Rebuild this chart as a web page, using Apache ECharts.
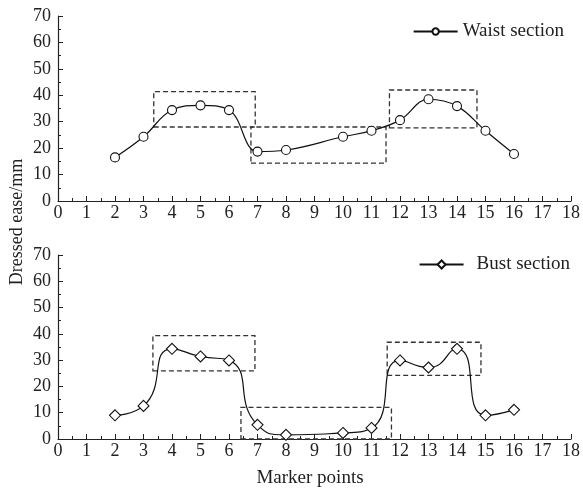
<!DOCTYPE html>
<html><head><meta charset="utf-8">
<script src="https://cdn.jsdelivr.net/npm/echarts@6/dist/echarts.min.js"></script>
<style>html,body{margin:0;padding:0;background:#fff}#c{width:583px;height:488px}</style>
</head><body><div id="c"></div>
<script>
const markerPoints = [2,3,4,5,6,7,8,10,11,12,13,14,15,16];
const waistValues = [16.5,24.3,34.4,36.2,34.4,18.7,19.3,24.3,26.6,30.6,38.5,35.9,26.6,17.8];
const bustValues  = [9.0,12.6,34.3,31.4,29.9,5.4,1.6,2.3,4.2,29.9,27.2,34.3,9.0,11.1];
// dashed boxes: [x1, y1, x2, y2]
const waistBoxes = [[3.36,28,6.92,41.4],[6.77,14.3,11.51,28],[11.63,27.7,14.7,42]];
const bustBoxes  = [[3.33,25.9,6.91,39.3],[6.42,0,11.7,12],[11.55,24.2,14.84,36.8]];
const xTicks = [0,1,2,3,4,5,6,7,8,9,10,11,12,13,14,15,16,17,18];
const yTicks = [0,10,20,30,40,50,60,70];

const font = 'Liberation Serif';
const txt = '#222';
function xAxis(gi){
  return {type:'value',gridIndex:gi,min:xTicks[0],max:xTicks[xTicks.length-1],interval:1,
    axisLine:{lineStyle:{color:'#222',width:1.2}},
    axisTick:{inside:true,length:5,lineStyle:{color:'#222'}},
    minorTick:{show:true,splitNumber:2,length:3,lineStyle:{color:'#222'}},
    splitLine:{show:false},
    axisLabel:{fontFamily:font,fontSize:18,color:txt,margin:3}};
}
function yAxis(gi){
  return {type:'value',gridIndex:gi,min:yTicks[0],max:yTicks[yTicks.length-1],interval:10,
    axisLine:{show:true,lineStyle:{color:'#222',width:1.2}},
    axisTick:{show:true,inside:true,length:5,lineStyle:{color:'#222'}},
    minorTick:{show:true,splitNumber:2,length:3,lineStyle:{color:'#222'}},
    splitLine:{show:false},
    axisLabel:{fontFamily:font,fontSize:18,color:txt,margin:7}};
}
function boxes(b){
  return {silent:true,
    itemStyle:{color:'rgba(0,0,0,0)',borderColor:'#333',borderWidth:1.3,borderType:[5,3]},
    data:b.map(r=>[{coord:[r[0],r[1]]},{coord:[r[2],r[3]]}])};
}
const chart = echarts.init(document.getElementById('c'));
chart.setOption({
  animation:false,
  backgroundColor:'#fff',
  grid:[{left:58,top:16,right:10,height:185},{left:58,top:255,right:10,height:184}],
  xAxis:[xAxis(0),xAxis(1)],
  yAxis:[yAxis(0),yAxis(1)],
  legend:[
    {data:['Waist section'],right:14,top:17,itemWidth:44,itemHeight:8,
     textStyle:{fontFamily:font,fontSize:19,color:txt}},
    {data:['Bust section'],right:8,top:250,itemWidth:44,itemHeight:10,
     textStyle:{fontFamily:font,fontSize:19,color:txt,padding:[0,0,0,8]}}
  ],
  graphic:[
    {type:'text',x:17,y:222,rotation:Math.PI/2,
     style:{text:'Dressed ease/mm',font:'18px "Liberation Serif"',fill:txt,textAlign:'center',textVerticalAlign:'middle'}},
    {type:'text',x:310,y:478,
     style:{text:'Marker points',font:'19px "Liberation Serif"',fill:txt,textAlign:'center',textVerticalAlign:'middle'}}
  ],
  series:[
    {name:'Waist section',type:'line',xAxisIndex:0,yAxisIndex:0,smooth:0.4,
     data:markerPoints.map((x,i)=>[x,waistValues[i]]),
     symbol:'circle',symbolSize:9,
     itemStyle:{color:'#fff',borderColor:'#111',borderWidth:1.1},
     lineStyle:{color:'#111',width:1.2},
     markArea:boxes(waistBoxes)},
    {name:'Bust section',type:'line',xAxisIndex:1,yAxisIndex:1,smooth:0.6,
     data:markerPoints.map((x,i)=>[x,bustValues[i]]),
     symbol:'diamond',symbolSize:[11,11],
     itemStyle:{color:'#fff',borderColor:'#111',borderWidth:1.1},
     lineStyle:{color:'#111',width:1.2},
     markArea:boxes(bustBoxes)}
  ]
});
</script></body></html>
